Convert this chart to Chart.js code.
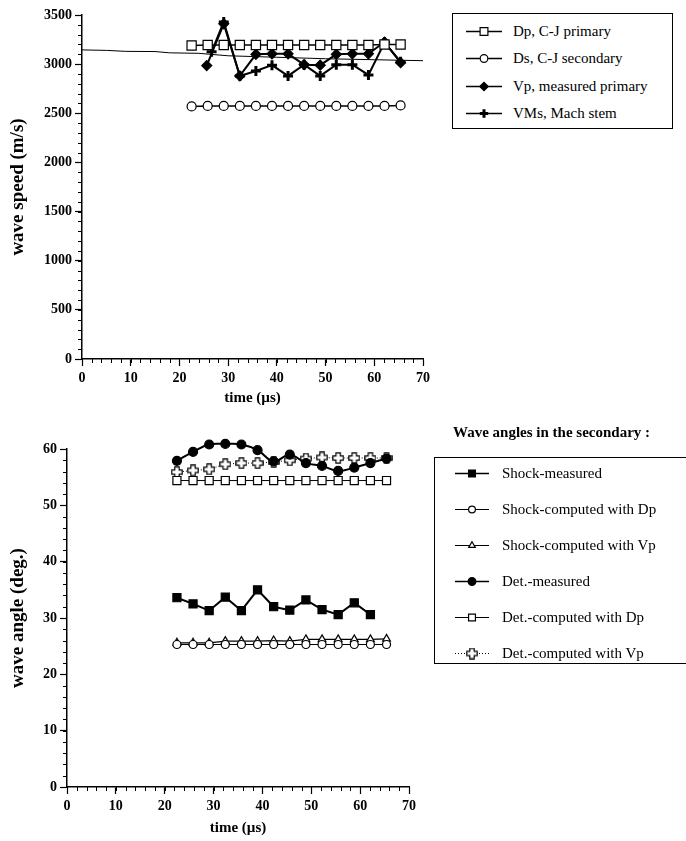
<!DOCTYPE html>
<html>
<head>
<meta charset="utf-8">
<script src="https://cdn.jsdelivr.net/npm/chart.js@4.4.0/dist/chart.umd.min.js"></script>
<style>
  html, body { margin: 0; padding: 0; background: #fff; }
  body { width: 686px; height: 841px; position: relative; overflow: hidden;
         font-family: "Liberation Serif", "Times New Roman", serif; color: #000; }
  canvas.grafico { position: absolute; left: 0; }
  #grafico-velocidad { top: 0; }
  #grafico-angulo { top: 410px; }
  .leyenda { position: absolute; border: 1.5px solid #000; background: #fff; box-sizing: border-box; }
  .leyenda .item { position: absolute; left: 0; height: 20px; white-space: nowrap; font-size: 15px; }
  .leyenda .item canvas { position: absolute; top: 2px; }
  .leyenda .item span { position: absolute; top: 1px; line-height: 18px; }
  #titulo-leyenda-angulo { position: absolute; left: 453px; top: 424px; font-size: 15px; font-weight: bold; white-space: nowrap; }
</style>
</head>
<body>
<canvas id="grafico-velocidad" class="grafico" width="686" height="410"></canvas>
<canvas id="grafico-angulo" class="grafico" width="686" height="431"></canvas>
<div id="leyenda-velocidad" class="leyenda" style="left:452px; top:13px; width:221px; height:116px;"></div>
<div id="titulo-leyenda-angulo">Wave angles in the secondary :</div>
<div id="leyenda-angulo" class="leyenda" style="left:434px; top:457px; width:270px; height:207px;"></div>

<script>
// ---- Datos: velocidades de onda (m/s) ----
const tiempoCJ = [22.5, 25.8, 29.1, 32.4, 35.7, 39.0, 42.3, 45.6, 48.9, 52.2, 55.5, 58.8, 62.1, 65.4];
const velDpCJ = [3190, 3195, 3195, 3195, 3195, 3195, 3195, 3195, 3195, 3195, 3195, 3195, 3200, 3200];
const velDsCJ = [2570, 2575, 2575, 2575, 2575, 2575, 2575, 2575, 2575, 2575, 2575, 2575, 2575, 2580];
const tiempoVp = [25.6, 29.1, 32.4, 35.7, 39.0, 42.3, 45.6, 48.9, 52.2, 55.5, 58.8, 62.1, 65.4];
const velVpMedida = [2985, 3410, 2880, 3100, 3105, 3105, 2995, 2990, 3100, 3105, 3105, 3225, 3015];
const tiempoVMs = [26.6, 29.1, 32.4, 35.7, 39.0, 42.3, 45.6, 48.9, 52.2, 55.5, 58.8, 62.1, 65.4];
const velVMs = [3125, 3430, 2880, 2930, 2990, 2880, 2995, 2880, 2995, 2995, 2890, 3220, 3025];
const tiempoTraza = [0, 5, 9, 15, 18, 24, 30, 40, 50, 60, 70];
const velTraza = [3145, 3140, 3130, 3128, 3115, 3110, 3085, 3070, 3055, 3045, 3035];

// ---- Datos: ángulos de onda en la secundaria (grados) ----
const tiempoSec = [22.5, 25.8, 29.1, 32.4, 35.7, 39.0, 42.3, 45.6, 48.9, 52.2, 55.5, 58.8, 62.1, 65.4];
const tiempoChoqueMedido = [22.5, 25.8, 29.1, 32.4, 35.7, 39.0, 42.3, 45.6, 48.9, 52.2, 55.5, 58.8, 62.1];
const angChoqueMedido = [33.6, 32.5, 31.3, 33.7, 31.3, 35.0, 32.0, 31.4, 33.2, 31.5, 30.6, 32.7, 30.6];
const angChoqueDp = [25.3, 25.3, 25.3, 25.3, 25.3, 25.3, 25.3, 25.3, 25.3, 25.3, 25.3, 25.3, 25.3, 25.3];
const angChoqueVp = [25.6, 25.6, 25.6, 25.9, 25.9, 25.9, 26.0, 25.9, 26.2, 26.2, 26.2, 26.2, 26.2, 26.3];
const angDetMedido = [57.9, 59.5, 60.8, 60.9, 60.8, 59.8, 57.8, 59.0, 57.5, 57.0, 56.1, 56.7, 57.5, 58.3];
const angDetDp = [54.4, 54.4, 54.4, 54.4, 54.4, 54.4, 54.4, 54.4, 54.4, 54.4, 54.4, 54.4, 54.4, 54.4];
const angDetVp = [55.9, 56.2, 56.4, 57.3, 57.5, 57.5, 57.7, 58.0, 58.3, 58.5, 58.4, 58.4, 58.4, 58.4];

const FUENTE = "'Liberation Serif', 'Times New Roman', serif";
Chart.defaults.font.family = FUENTE;
Chart.defaults.color = '#000';

/** Une un arreglo de tiempos con uno de valores en puntos {x, y} */
function puntos(tiempos, valores) {
  return tiempos.map((t, i) => ({ x: t, y: valores[i] }));
}

// Marcador "cruz hueca" para Det.-computed with Vp
function crearCruzHueca() {
  const c = document.createElement('canvas');
  c.width = 12; c.height = 12;
  const g = c.getContext('2d');
  const a = 2.2, m = 5.2, cx = 6, cy = 6;
  g.beginPath();
  g.moveTo(cx - a, cy - m); g.lineTo(cx + a, cy - m); g.lineTo(cx + a, cy - a);
  g.lineTo(cx + m, cy - a); g.lineTo(cx + m, cy + a); g.lineTo(cx + a, cy + a);
  g.lineTo(cx + a, cy + m); g.lineTo(cx - a, cy + m); g.lineTo(cx - a, cy + a);
  g.lineTo(cx - m, cy + a); g.lineTo(cx - m, cy - a); g.lineTo(cx - a, cy - a);
  g.closePath();
  g.fillStyle = '#fff'; g.fill();
  g.strokeStyle = '#000'; g.lineWidth = 1.2; g.stroke();
  return c;
}

// Plugin: ticks menores en los ejes
const ticksMenores = {
  id: 'ticksMenores',
  afterDraw(chart, args, opts) {
    const { ctx, chartArea } = chart;
    const x = chart.scales.x, y = chart.scales.y;
    ctx.save();
    ctx.strokeStyle = '#000';
    ctx.lineWidth = 1;
    ctx.beginPath();
    const nx = Math.round((x.max - x.min) / opts.pasoX);
    for (let i = 0; i <= nx; i++) {
      const px = Math.round(x.getPixelForValue(x.min + i * opts.pasoX)) + 0.5;
      ctx.moveTo(px, chartArea.bottom);
      ctx.lineTo(px, chartArea.bottom + opts.largo);
    }
    const ny = Math.round((y.max - y.min) / opts.pasoY);
    for (let i = 0; i <= ny; i++) {
      const py = Math.round(y.getPixelForValue(y.min + i * opts.pasoY)) + 0.5;
      ctx.moveTo(chartArea.left, py);
      ctx.lineTo(chartArea.left - opts.largo, py);
    }
    ctx.stroke();
    ctx.restore();
  }
};

/** Opciones de ejes comunes a los dos gráficos */
function opcionesEjes(cfg) {
  const fuenteTicks = { family: FUENTE, size: 14, weight: 'bold' };
  const fuenteTituloX = { family: FUENTE, size: 15, weight: 'bold' };
  const fuenteTituloY = { family: FUENTE, size: 19, weight: 'bold' };
  return {
    x: {
      type: 'linear', min: 0, max: 70,
      ticks: { stepSize: 10, font: fuenteTicks, color: '#000', padding: 4, maxRotation: 0 },
      grid: { drawOnChartArea: false, tickLength: 7, color: '#000', tickWidth: 1.2 },
      border: { color: '#000', width: 1.5 },
      title: { display: true, text: 'time (µs)', font: fuenteTituloX, color: '#000', padding: { top: 0, bottom: cfg.padTituloX } },
      afterFit(s) { s.height = cfg.altoX; }
    },
    y: {
      type: 'linear', min: 0, max: cfg.maxY,
      ticks: {
        stepSize: cfg.pasoY, font: fuenteTicks, color: '#000', padding: 3,
        callback: function(value) { return String(value); }
      },
      grid: { drawOnChartArea: false, tickLength: 7, color: '#000', tickWidth: 1.2 },
      border: { color: '#000', width: 1.5 },
      title: { display: true, text: cfg.tituloY, font: fuenteTituloY, color: '#000', padding: { top: 7, bottom: 0 } },
      afterFit(s) { s.width = cfg.anchoY; }
    }
  };
}

function serie(label, datos, estilo) {
  return Object.assign({
    label: label,
    data: datos,
    showLine: true,
    borderColor: '#000',
    borderWidth: 1.2,
    pointBorderColor: '#000',
    pointBackgroundColor: '#fff',
    pointBorderWidth: 1.2,
    pointRadius: 4.5,
    tension: 0,
    clip: false
  }, estilo);
}

// ---- Gráfico de velocidades ----
const graficoVelocidad = new Chart(document.getElementById('grafico-velocidad'), {
  type: 'scatter',
  data: {
    datasets: [
      serie('Dp, C-J primary', puntos(tiempoCJ, velDpCJ), { pointStyle: 'rect', pointRadius: 6.5, borderWidth: 1.5 }),
      serie('Ds, C-J secondary', puntos(tiempoCJ, velDsCJ), { pointStyle: 'circle', pointRadius: 4.5, borderWidth: 1.5 }),
      serie('Vp, measured primary', puntos(tiempoVp, velVpMedida), { pointStyle: 'rectRot', pointRadius: 5, pointBackgroundColor: '#000', borderWidth: 2 }),
      serie('VMs, Mach stem', puntos(tiempoVMs, velVMs), { pointStyle: 'cross', pointRadius: 5, pointBorderWidth: 3, borderWidth: 2 }),
      serie(null, puntos(tiempoTraza, velTraza), { pointRadius: 0, borderWidth: 1 })
    ]
  },
  options: {
    responsive: false,
    animation: false,
    devicePixelRatio: 1,
    layout: { padding: { top: 15, right: 263, bottom: 0, left: 0 } },
    plugins: {
      legend: { display: false },
      tooltip: { enabled: false },
      ticksMenores: { pasoX: 2, pasoY: 100, largo: 4 }
    },
    scales: opcionesEjes({ maxY: 3500, pasoY: 500, tituloY: 'wave speed (m/s)', anchoY: 82, altoX: 51, padTituloX: 3 })
  },
  plugins: [ticksMenores]
});

// ---- Gráfico de ángulos ----
const cruzHueca = crearCruzHueca();
const graficoAngulo = new Chart(document.getElementById('grafico-angulo'), {
  type: 'scatter',
  data: {
    datasets: [
      serie('Shock-measured', puntos(tiempoChoqueMedido, angChoqueMedido), { pointStyle: 'rect', pointRadius: 5.7, pointBackgroundColor: '#000', borderWidth: 2 }),
      serie('Shock-computed with Dp', puntos(tiempoSec, angChoqueDp), { pointStyle: 'circle', pointRadius: 4 }),
      serie('Shock-computed with Vp', puntos(tiempoSec, angChoqueVp), { pointStyle: 'triangle', pointRadius: 4.5 }),
      serie('Det.-measured', puntos(tiempoSec, angDetMedido), { pointStyle: 'circle', pointRadius: 4.5, pointBackgroundColor: '#000', borderWidth: 2, tension: 0.4 }),
      serie('Det.-computed with Dp', puntos(tiempoSec, angDetDp), { pointStyle: 'rect', pointRadius: 5.7, borderWidth: 1 }),
      serie('Det.-computed with Vp', puntos(tiempoSec, angDetVp), { pointStyle: cruzHueca, borderWidth: 1, borderDash: [1, 2] })
    ]
  },
  options: {
    responsive: false,
    animation: false,
    devicePixelRatio: 1,
    layout: { padding: { top: 39, right: 277, bottom: 0, left: 0 } },
    plugins: {
      legend: { display: false },
      tooltip: { enabled: false },
      ticksMenores: { pasoX: 2, pasoY: 2, largo: 4 }
    },
    scales: opcionesEjes({ maxY: 60, pasoY: 10, tituloY: 'wave angle (deg.)', anchoY: 67, altoX: 54, padTituloX: 4 })
  },
  plugins: [ticksMenores]
});

/**
 * Construye una leyenda HTML con muestra de línea + marcador
 * @param {Chart} chart - gráfico de origen
 * @param {string} idCaja - contenedor de la leyenda
 * @param {Object} cfg - posiciones de filas y columnas
 */
function construirLeyenda(chart, idCaja, cfg) {
  const caja = document.getElementById(idCaja);
  const datasets = chart.data.datasets.filter(d => d.label);
  datasets.forEach((ds, i) => {
    const item = document.createElement('div');
    item.className = 'item';
    item.style.top = (cfg.filas[i] - 10) + 'px';
    const muestra = document.createElement('canvas');
    muestra.width = cfg.anchoMuestra; muestra.height = 16;
    muestra.style.left = cfg.xMuestra + 'px';
    const ctx = muestra.getContext('2d');
    ctx.strokeStyle = '#000';
    ctx.lineWidth = Math.min(ds.borderWidth, 1.5);
    ctx.setLineDash(ds.borderDash || []);
    ctx.beginPath(); ctx.moveTo(0, 8.5); ctx.lineTo(cfg.anchoMuestra, 8.5); ctx.stroke();
    ctx.setLineDash([]);
    ctx.fillStyle = ds.pointBackgroundColor;
    ctx.strokeStyle = ds.pointBorderColor;
    ctx.lineWidth = ds.pointBorderWidth;
    Chart.helpers.drawPoint(ctx, {
      pointStyle: ds.pointStyle, radius: ds.pointRadius * 0.85, rotation: 0, borderWidth: ds.pointBorderWidth
    }, cfg.anchoMuestra / 2, 8.5);
    const texto = document.createElement('span');
    texto.textContent = ds.label;
    texto.style.left = cfg.xTexto + 'px';
    item.appendChild(muestra);
    item.appendChild(texto);
    caja.appendChild(item);
  });
}

construirLeyenda(graficoVelocidad, 'leyenda-velocidad', { filas: [17, 44, 72, 99], xMuestra: 13, anchoMuestra: 36, xTexto: 60 });
construirLeyenda(graficoAngulo, 'leyenda-angulo', { filas: [15, 51, 87, 123, 159, 195], xMuestra: 20, anchoMuestra: 34, xTexto: 67 });
</script>
</body>
</html>
